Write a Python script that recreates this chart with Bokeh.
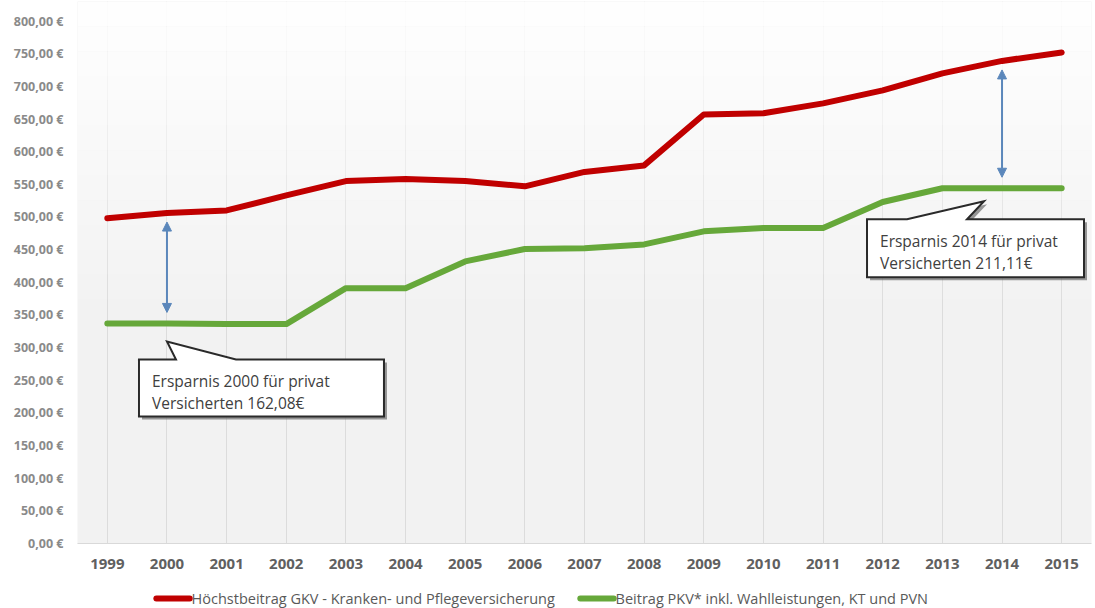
from bokeh.plotting import figure
from bokeh.layouts import column
from bokeh.models import (Range1d, FixedTicker, Arrow, NormalHead, Label, BoxAnnotation)
from bokeh.core.properties import value
from bokeh.embed import file_html
from bokeh.resources import INLINE

# ---------------- data ----------------
years = list(range(1999, 2016))
gkv = [498, 506, 510, 533, 555, 558, 555, 547, 569, 579, 657, 659, 674, 694, 720, 739, 752]
pkv = [337, 337, 336, 336, 391, 391, 432, 451, 452, 458, 478, 483, 483, 523, 544, 544, 544]
y_ticks = list(range(0, 801, 50))
y_labels = {v: f"{v},00 €" for v in y_ticks}
gkv_name = "Höchstbeitrag GKV - Kranken- und Pflegeversicherung"
pkv_name = "Beitrag PKV* inkl. Wahlleistungen, KT und PVN"
series_names = [gkv_name, pkv_name]
series_colors = ["#c00000", "#66a83a"]
callout_years = [2000, 2014]
callout_texts = ["Ersparnis 2000 für privat\nVersicherten 162,08€",
                 "Ersparnis 2014 für privat\nVersicherten 211,11€"]

# ---------------- layout ----------------
FONT = "Open Sans"
FW, FH = 1014, 542
X0, X1 = 1998.5, 2015.5
Y0, Y1 = 0, 830
pxx = FW / (X1 - X0)   # pixels per year
pxy = FH / (Y1 - Y0)   # pixels per euro

p = figure(frame_width=FW, frame_height=FH, output_backend="svg", toolbar_location=None,
           x_range=Range1d(X0, X1), y_range=Range1d(Y0, Y1),
           min_border_left=77, min_border_right=2, min_border_top=1, min_border_bottom=30)
p.outline_line_color = None
p.background_fill_color = "#f2f2f2"
p.border_fill_color = "white"

# soft vertical gradient (light at top)
nb = 12
for i in range(nb):
    lo = Y1 - (i + 1) * (Y1 - Y0) / nb * 0.55
    hi = Y1 - i * (Y1 - Y0) / nb * 0.55
    p.add_layout(BoxAnnotation(bottom=lo, top=hi, fill_color="white",
                               fill_alpha=0.9 * (1 - i / nb), line_color=None, level="underlay"))

# axes
p.xaxis.ticker = FixedTicker(ticks=years)
p.xaxis.axis_line_color = "#d9d9d9"
p.xaxis.major_tick_line_color = None
p.xaxis.minor_tick_line_color = None
p.xaxis.major_label_text_font = FONT
p.xaxis.major_label_text_font_size = "15px"
p.xaxis.major_label_text_font_style = "bold"
p.xaxis.major_label_text_color = "#606060"
p.xaxis.major_label_standoff = 9

p.yaxis.ticker = FixedTicker(ticks=y_ticks)
p.yaxis.major_label_overrides = y_labels
p.yaxis.axis_line_color = None
p.yaxis.major_tick_line_color = None
p.yaxis.minor_tick_line_color = None
p.yaxis.major_label_text_font = FONT
p.yaxis.major_label_text_font_size = "12.5px"
p.yaxis.major_label_text_font_style = "bold"
p.yaxis.major_label_text_color = "#8a8a8a"
p.yaxis.major_label_standoff = 8

p.xgrid.ticker = FixedTicker(ticks=years)
p.xgrid.grid_line_color = "#dcdcdc"
p.ygrid.grid_line_color = None

# lines
for vals, col in zip([gkv, pkv], series_colors):
    p.line(years, vals, line_color=col, line_width=6, line_join="round", line_cap="round")

# arrows
for yr in callout_years:
    i = years.index(yr)
    p.add_layout(Arrow(x_start=yr, y_start=gkv[i] - 9 / pxy, x_end=yr, y_end=pkv[i] + 11 / pxy,
                       line_color="#5b87bb", line_width=2,
                       start=NormalHead(size=9, fill_color="#5b87bb", line_color="#5b87bb"),
                       end=NormalHead(size=9, fill_color="#5b87bb", line_color="#5b87bb")))

# callouts (pixel offsets relative to the anchor on the green line)
shapes = [
    dict(tip=(0, 18), left=-28, right=217, top=36, bottom=93, b1=9, b2=69),
    dict(tip=(-18, 13), left=-135, right=82, top=31, bottom=89, b1=-95, b2=-35),
]
for yr, txt, s in zip(callout_years, callout_texts, shapes):
    i = years.index(yr)
    ax, ay = yr, pkv[i]
    pts = [(s["left"], s["top"]), (s["b1"], s["top"]), s["tip"], (s["b2"], s["top"]),
           (s["right"], s["top"]), (s["right"], s["bottom"]), (s["left"], s["bottom"])]
    xs = [ax + dx / pxx for dx, dy in pts]
    ys = [ay - dy / pxy for dx, dy in pts]
    xs_sh = [ax + (dx + 3) / pxx for dx, dy in pts]
    ys_sh = [ay - (dy + 3) / pxy for dx, dy in pts]
    p.patch(xs_sh, ys_sh, fill_color="#6e6e6e", fill_alpha=0.7, line_color=None)
    p.patch(xs, ys, fill_color="white", line_color="#2a2a2a", line_width=2, line_join="miter")
    p.add_layout(Label(x=ax + (s["left"] + 13) / pxx, y=ay - (s["top"] + 11) / pxy, text=txt,
                       text_font=FONT, text_font_size="15.5px", text_color="#404040",
                       text_baseline="top", text_align="left", text_line_height=1.0))

# ---------------- legend strip (separate small figure below) ----------------
LW, LH = 1093, 35
lg = figure(width=LW, height=LH, output_backend="svg", toolbar_location=None,
            x_range=Range1d(0, LW), y_range=Range1d(0, LH),
            min_border=0, outline_line_color=None)
lg.axis.visible = False
lg.grid.visible = False
lg.border_fill_color = "white"
lg.background_fill_color = "white"
item_x = [85, 542]       # start of each legend sample (px in the strip)
glyph_w = 36
ly = 10
for x0, name, col in zip(item_x, series_names, series_colors):
    lg.line([x0, x0 + glyph_w], [ly, ly], line_color=col, line_width=6, line_cap="round")
    lg.text(x=[x0 + glyph_w + 2], y=[ly], text=[name], text_font=value(FONT),
            text_font_size="14.5px", text_color="#595959",
            text_baseline="middle", text_align="left")

open("out.html", "w").write(file_html(column(p, lg, spacing=0), INLINE))
